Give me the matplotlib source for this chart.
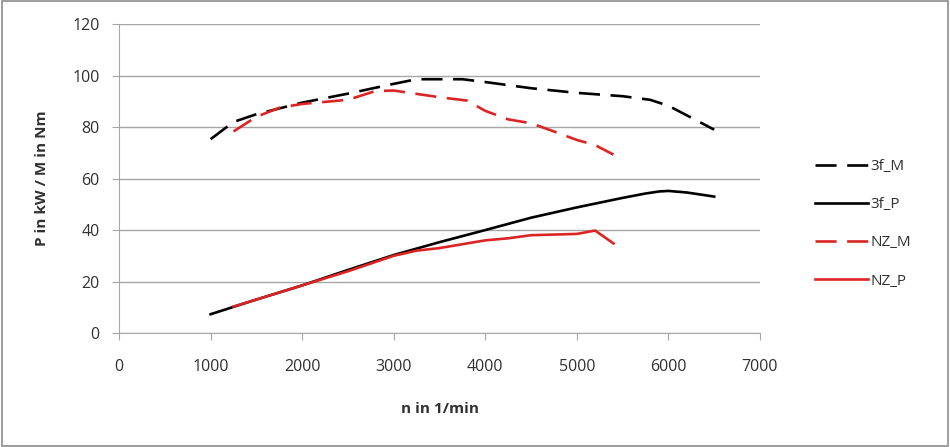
import matplotlib
matplotlib.use("Agg")
import matplotlib.pyplot as plt
from matplotlib.patches import Rectangle

plt.rcParams['font.family'] = ['Open Sans', 'DejaVu Sans']

# ── 데이터 ─────────────────────────────────────────────────────────
rpm_3f_m = [1000, 1250, 1500, 2000, 2500, 3000, 3250, 3750, 4000, 4500, 5000, 5500, 5800, 6000, 6500]
val_3f_m = [75.3, 82.0, 85.0, 89.5, 93.0, 96.8, 98.6, 98.6, 97.5, 95.1, 93.3, 92.0, 90.6, 88.3, 79.0]

rpm_3f_p = [1000, 1500, 2000, 2500, 3000, 3500, 4000, 4500, 5000, 5500, 5750, 5900, 6000, 6200, 6500]
val_3f_p = [7.3, 13.0, 18.5, 24.5, 30.3, 35.3, 40.0, 44.8, 48.8, 52.5, 54.2, 55.0, 55.2, 54.6, 53.0]

rpm_nz_m = [1250, 1500, 1750, 2000, 2500, 2800, 3000, 3500, 3800, 4000, 4250, 4500, 4750, 5000, 5200, 5400]
val_nz_m = [78.3, 84.0, 87.5, 89.0, 90.6, 94.0, 94.2, 91.6, 90.3, 86.3, 83.0, 81.5, 78.3, 75.0, 73.0, 69.3]

rpm_nz_p = [1250, 1500, 2000, 2500, 3000, 3250, 3500, 4000, 4250, 4500, 5000, 5200, 5400]
val_nz_p = [10.3, 13.0, 18.5, 24.0, 30.0, 32.0, 33.0, 36.0, 36.8, 38.0, 38.5, 39.8, 34.8]

RED = "#dc2424"
GRID = "#a6a6a6"
TXT = "#303030"

# ── 그래프 ────────────────────────────────────────────────────────────────
fig = plt.figure(figsize=(9.5, 4.47), dpi=100)
ax = fig.add_axes([0.1253, 0.255, 0.6747, 0.691])

lw = 1.9
ax.plot(rpm_3f_m, val_3f_m, color="black", lw=lw, dashes=(8, 4), label="3f_M")
ax.plot(rpm_3f_p, val_3f_p, color="black", lw=lw, label="3f_P")
ax.plot(rpm_nz_m, val_nz_m, color=RED, lw=lw, dashes=(8, 4), label="NZ_M")
ax.plot(rpm_nz_p, val_nz_p, color=RED, lw=lw, label="NZ_P")

ax.set_xlim(0, 7000)
ax.set_ylim(0, 120)
ax.set_xticks(range(0, 7001, 1000))
ax.set_yticks(range(0, 121, 20))
ax.grid(True, axis="y", color=GRID, lw=1.0)
ax.set_axisbelow(True)
for side in ("top", "right"):
    ax.spines[side].set_visible(False)
for side in ("left", "bottom"):
    ax.spines[side].set_color(GRID)
ax.tick_params(axis="both", colors=GRID, labelcolor=TXT, labelsize=11.5, length=5)
ax.tick_params(axis="x", pad=14)
ax.tick_params(axis="y", pad=9)

ax.set_xlabel("n in 1/min", fontsize=11, fontweight="bold", color=TXT, labelpad=19)
ax.set_ylabel("P in kW / M in Nm", fontsize=11, fontweight="bold", color=TXT, labelpad=17)

fig.legend(loc="upper left", bbox_to_anchor=(815 / 950, 1 - 159 / 447),
           frameon=False, fontsize=11, handlelength=3.5, handletextpad=0.1,
           labelspacing=1.52, borderpad=0, borderaxespad=0, labelcolor=TXT)

# 그림 테두리
fig.patches.append(Rectangle((0.002, 0.003), 0.996, 0.994, transform=fig.transFigure,
                             fill=False, edgecolor="#8c8c8c", lw=1.2))

fig.savefig("out.png", dpi=100)
